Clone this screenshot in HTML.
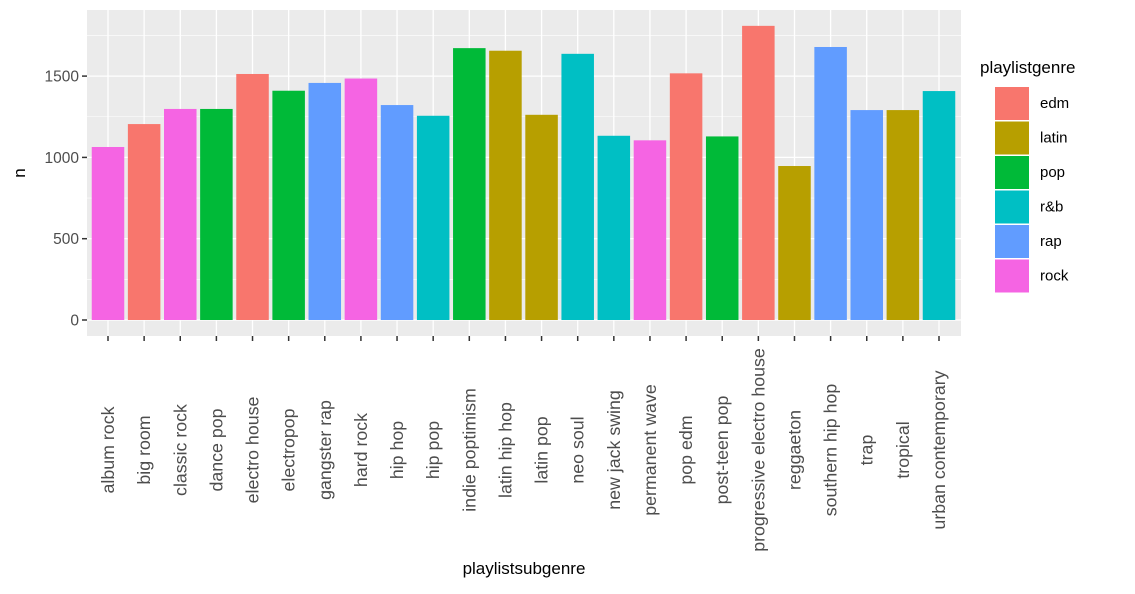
<!DOCTYPE html>
<html><head><meta charset="utf-8"><style>
body{margin:0;background:#fff;font-family:"Liberation Sans",Arial,sans-serif}
</style></head><body>
<svg id="chart" width="1135" height="589" xmlns="http://www.w3.org/2000/svg" font-family="Liberation Sans, Arial, sans-serif"></svg>
<script>
const categories=["album rock","big room","classic rock","dance pop","electro house","electropop","gangster rap","hard rock","hip hop","hip pop","indie poptimism","latin hip hop","latin pop","neo soul","new jack swing","permanent wave","pop edm","post-teen pop","progressive electro house","reggaeton","southern hip hop","trap","tropical","urban contemporary"];
const counts=[1064,1205,1298,1298,1513,1410,1458,1485,1322,1256,1672,1656,1262,1637,1133,1105,1517,1129,1809,947,1679,1291,1291,1408];
const genres=["rock","edm","rock","pop","edm","pop","rap","rock","rap","r&b","pop","latin","latin","r&b","r&b","rock","edm","pop","edm","latin","rap","rap","latin","r&b"];
const legendGenres=["edm","latin","pop","r&b","rap","rock"];
const yTicks=[0,500,1000,1500];
const colorMap={"edm":"#F8766D","latin":"#B79F00","pop":"#00BA38","r&b":"#00BFC4","rap":"#619CFF","rock":"#F564E3"};
const svg=document.getElementById('chart');
const NS="http://www.w3.org/2000/svg";
function mk(t,a,p){const e=document.createElementNS(NS,t);for(const k in a)e.setAttribute(k,a[k]);(p||svg).appendChild(e);return e;}
const L=87,R=961,T=10,B=336;
const y0=320,pxPer=81.3/500;
const yS=v=>y0-v*pxPer;
const x0=108,x1=939;
const step=(x1-x0)/(categories.length-1);
const xS=i=>x0+i*step;
const panel=mk('rect',{x:L,y:T,width:R-L,height:B-T,fill:'#EBEBEB'});


for(let i=0;i<yTicks.length;i++){const v=yTicks[i]+250;const y=yS(v);if(y>T)mk('line',{x1:L,x2:R,y1:y,y2:y,stroke:'#fff','stroke-width':0.6});}
for(const v of yTicks){const y=yS(v);mk('line',{x1:L,x2:R,y1:y,y2:y,stroke:'#fff','stroke-width':1.3});}
categories.forEach((c,i)=>{const x=xS(i);mk('line',{x1:x,x2:x,y1:T,y2:B,stroke:'#fff','stroke-width':1.3});});
categories.forEach((c,i)=>{
 const x=xS(i),w=step*0.9;
 const r=mk('rect',{x:x-w/2,y:yS(counts[i]),width:w,height:yS(0)-yS(counts[i]),fill:colorMap[genres[i]]});
 
 
 mk('line',{x1:x,x2:x,y1:B,y2:B+5,stroke:'#333','stroke-width':1.5});
 const t=mk('text',{x:0,y:0,transform:`translate(${x+6},450) rotate(-90)`,'text-anchor':'middle','font-size':17.8,fill:'#4D4D4D'});
 t.textContent=c;
 
 
});
for(const v of yTicks){const y=yS(v);mk('line',{x1:L-5,x2:L,y1:y,y2:y,stroke:'#333','stroke-width':1.5});
 const t=mk('text',{x:L-8,y:y+5.5,'text-anchor':'end','font-size':15.5,fill:'#4D4D4D'});t.textContent=v;
 
 }
const yt=mk('text',{x:0,y:0,transform:'translate(25,173) rotate(-90)','text-anchor':'middle','font-size':17,fill:'#000'});yt.textContent='n';


const xt=mk('text',{x:(L+R)/2,y:574,'text-anchor':'middle','font-size':17,fill:'#000'});xt.textContent='playlistsubgenre';


const lt=mk('text',{x:980,y:73,'font-size':17,fill:'#000'});lt.textContent='playlistgenre';


legendGenres.forEach((g,i)=>{const y=87+i*34.5;
 const k=mk('rect',{x:995,y:y,width:34,height:33,fill:colorMap[g]});
 
 
 const t=mk('text',{x:1040,y:y+21,'font-size':15,fill:'#000'});t.textContent=g;
 
 });
</script>
</body></html>
